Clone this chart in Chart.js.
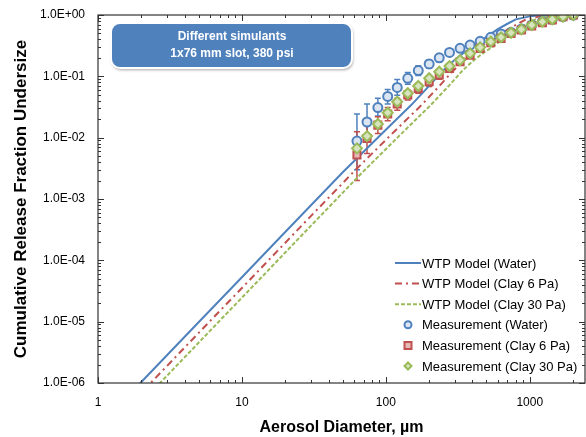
<!DOCTYPE html>
<html>
  <head>
    <meta charset="UTF-8" />
    <title>Cumulative Release Fraction Undersize</title>
    <script src="https://cdn.jsdelivr.net/npm/chart.js"></script>
    <style>
      body {
        margin: 0;
        background: #fff;
      }
      #wrap {
        width: 586px;
        height: 437px;
      }
    </style>
  </head>

  <body>
    <div id="wrap"><canvas id="releaseChart" width="586" height="437"></canvas></div>

    <script>
      // WTP model curves
      const waterModelX = [1, 2, 5, 10, 20, 50, 100, 150, 200, 250, 300, 350, 400, 500, 600, 700, 800, 1000, 1200, 1500, 2500];
      const waterModel = [1.9e-7, 1.04e-6, 9.8e-6, 5.3e-5, 2.9e-4, 2.7e-3, 0.0135, 0.034, 0.07, 0.125, 0.185, 0.244, 0.3, 0.44, 0.59, 0.72, 0.85, 0.95, 0.99, 1.0, 1.0];
      const clay6ModelX = [1.18, 2.36, 5.9, 11.8, 23.6, 59, 118, 177, 236, 295, 354, 413, 472, 590, 708, 826, 944, 1180, 1416, 1770, 2950];
      const clay6Model = [1.9e-7, 1.04e-6, 9.8e-6, 5.3e-5, 2.9e-4, 2.7e-3, 0.0135, 0.034, 0.07, 0.125, 0.185, 0.244, 0.3, 0.44, 0.59, 0.72, 0.85, 0.95, 0.99, 1.0, 1.0];
      const clay30ModelX = [1.37, 2.74, 6.85, 13.7, 27.4, 68.5, 137, 205, 274, 342, 411, 480, 548, 685, 822, 959, 1096, 1370, 1644, 2055, 3425];
      const clay30Model = [1.9e-7, 1.04e-6, 9.8e-6, 5.3e-5, 2.9e-4, 2.7e-3, 0.0135, 0.034, 0.07, 0.125, 0.185, 0.244, 0.3, 0.44, 0.59, 0.72, 0.85, 0.95, 0.99, 1.0, 1.0];

      // measurements
      const measX = [63, 74, 88, 103, 120, 142, 168, 200, 235, 277, 328, 385, 452, 536, 632, 741, 875, 1032, 1224, 1435, 1702, 2010];
      const waterMeas = [0.0088, 0.018, 0.031, 0.047, 0.066, 0.093, 0.124, 0.159, 0.2, 0.245, 0.286, 0.324, 0.372, 0.433, 0.49, 0.52, 0.59, 0.69, 0.78, 0.85, 0.94, 1.0];
      const clay6Meas = [0.0052, 0.0097, 0.016, 0.0243, 0.0353, 0.0495, 0.0637, 0.0817, 0.105, 0.135, 0.173, 0.222, 0.286, 0.353, 0.416, 0.5, 0.57, 0.66, 0.75, 0.83, 0.94, 1.0];
      const clay30Meas = [0.0067, 0.0106, 0.0167, 0.0255, 0.0386, 0.053, 0.0695, 0.093, 0.119, 0.147, 0.184, 0.237, 0.297, 0.367, 0.433, 0.514, 0.583, 0.687, 0.778, 0.85, 0.94, 1.0];

      // error bars (low / high), null = no bar
      const waterErrLo = [0.003, 0.0094, 0.0225, 0.0355, 0.049, 0.074, 0.103, 0.136, 0.172, 0.215, 0.256, 0.295, null, null, null, null, null, null, null, null, null, null];
      const waterErrHi = [0.0243, 0.0353, 0.044, 0.061, 0.089, 0.116, 0.149, 0.185, 0.232, 0.28, 0.32, 0.355, null, null, null, null, null, null, null, null, null, null];
      const clay6ErrLo = [0.002, 0.0055, 0.0117, 0.0188, 0.028, 0.041, 0.053, 0.068, 0.09, 0.118, 0.155, null, null, null, null, null, null, null, null, null, null, null];
      const clay6ErrHi = [0.0125, 0.017, 0.022, 0.031, 0.044, 0.059, 0.076, 0.098, 0.123, 0.155, 0.195, null, null, null, null, null, null, null, null, null, null, null];

      const xTicks = [1, 10, 100, 1000];
      const yTicks = [1e-6, 1e-5, 1e-4, 1e-3, 1e-2, 1e-1, 1];

      const BLUE = "#4F81BD";
      const RED = "#C0504D";
      const GREEN = "#9BBB59";
      const FONT = "'Liberation Sans', Arial, sans-serif";

      function toPoints(xs, ys) {
        return xs.map((x, i) => ({ x: x, y: ys[i] }));
      }

      function expLabel(v) {
        const e = Math.round(Math.log10(v));
        return "1.0E" + (e < 0 ? "-" : "+") + String(Math.abs(e)).padStart(2, "0");
      }

      // error bars under the markers
      const errorBars = {
        id: "errorBars",
        beforeDatasetsDraw(chart) {
          const { ctx, chartArea: a, scales } = chart;
          ctx.save();
          ctx.beginPath();
          ctx.rect(a.left, a.top, a.width, a.height);
          ctx.clip();
          [
            [waterErrLo, waterErrHi, BLUE],
            [clay6ErrLo, clay6ErrHi, RED],
          ].forEach(([lo, hi, color]) => {
            ctx.strokeStyle = color;
            ctx.lineWidth = 1.5;
            lo.forEach((l, i) => {
              if (l == null) return;
              const px = scales.x.getPixelForValue(measX[i]);
              const p1 = scales.y.getPixelForValue(l);
              const p2 = scales.y.getPixelForValue(hi[i]);
              ctx.beginPath();
              ctx.moveTo(px, p1);
              ctx.lineTo(px, p2);
              ctx.moveTo(px - 3, p1);
              ctx.lineTo(px + 3, p1);
              ctx.moveTo(px - 3, p2);
              ctx.lineTo(px + 3, p2);
              ctx.stroke();
            });
          });
          ctx.restore();
        },
      };

      // box frame with inside major/minor ticks on all four sides
      const frameTicks = {
        id: "frameTicks",
        afterDatasetsDraw(chart) {
          const { ctx, chartArea: a, scales } = chart;
          const x = scales.x;
          const y = scales.y;
          ctx.save();
          ctx.strokeStyle = "#333";
          ctx.lineWidth = 1.2;
          ctx.strokeRect(a.left, a.top, a.width, a.height);
          ctx.lineWidth = 1;
          ctx.beginPath();
          for (let d = 0; d <= 3; d++) {
            for (let k = 1; k <= 9; k++) {
              const v = k * Math.pow(10, d);
              if (v > x.max) break;
              const px = Math.round(x.getPixelForValue(v)) + 0.5;
              const len = k === 1 ? 6 : 3;
              ctx.moveTo(px, a.bottom);
              ctx.lineTo(px, a.bottom - len);
              ctx.moveTo(px, a.top);
              ctx.lineTo(px, a.top + len);
            }
          }
          for (let d = -6; d <= 0; d++) {
            for (let k = 1; k <= 9; k++) {
              const v = k * Math.pow(10, d);
              if (v > y.max * 1.0001) break;
              const py = Math.round(y.getPixelForValue(v)) + 0.5;
              const len = k === 1 ? 6 : 3;
              ctx.moveTo(a.left, py);
              ctx.lineTo(a.left + len, py);
              ctx.moveTo(a.right, py);
              ctx.lineTo(a.right - len, py);
            }
          }
          ctx.stroke();
          ctx.restore();
        },
      };

      function roundRect(ctx, x, y, w, h, r) {
        ctx.beginPath();
        ctx.moveTo(x + r, y);
        ctx.arcTo(x + w, y, x + w, y + h, r);
        ctx.arcTo(x + w, y + h, x, y + h, r);
        ctx.arcTo(x, y + h, x, y, r);
        ctx.arcTo(x, y, x + w, y, r);
        ctx.closePath();
      }

      function drawMarker(ctx, style, cx, cy, r, fill, stroke) {
        ctx.fillStyle = fill;
        ctx.strokeStyle = stroke;
        ctx.lineWidth = 2;
        ctx.setLineDash([]);
        ctx.beginPath();
        if (style === "circle") {
          ctx.arc(cx, cy, r, 0, Math.PI * 2);
        } else if (style === "rect") {
          ctx.rect(cx - r, cy - r, 2 * r, 2 * r);
        } else {
          ctx.moveTo(cx, cy - r);
          ctx.lineTo(cx + r, cy);
          ctx.lineTo(cx, cy + r);
          ctx.lineTo(cx - r, cy);
          ctx.closePath();
        }
        ctx.fill();
        ctx.stroke();
      }

      // text box, legend and y-axis title
      const annotations = {
        id: "annotations",
        afterDraw(chart) {
          const { ctx, chartArea: a } = chart;
          ctx.save();

          // "Different simulants" box
          ctx.shadowColor = "rgba(0,0,0,0.35)";
          ctx.shadowBlur = 3;
          ctx.shadowOffsetX = 1;
          ctx.shadowOffsetY = 2;
          roundRect(ctx, 111, 23, 241, 45, 9);
          ctx.fillStyle = BLUE;
          ctx.fill();
          ctx.shadowColor = "transparent";
          ctx.strokeStyle = "#fff";
          ctx.lineWidth = 2;
          ctx.stroke();
          ctx.fillStyle = "#fff";
          ctx.font = "bold 12px " + FONT;
          ctx.textAlign = "center";
          ctx.textBaseline = "middle";
          ctx.fillText("Different simulants", 232, 37);
          ctx.fillText("1x76 mm slot, 380 psi", 232, 54);

          // y-axis title, centred on the plot area
          ctx.save();
          ctx.translate(21, (a.top + a.bottom) / 2);
          ctx.rotate(-Math.PI / 2);
          ctx.fillStyle = "#000";
          ctx.font = "bold 17px " + FONT;
          ctx.fillText("Cumulative Release Fraction Undersize", 0, 0);
          ctx.restore();

          // legend
          const tx = a.left + 324;
          const y0 = a.bottom - 120;
          ctx.textAlign = "left";
          ctx.font = "13px " + FONT;
          chart.data.datasets.forEach((ds, i) => {
            const yy = y0 + i * 20.6;
            if (ds.showLine) {
              ctx.strokeStyle = ds.borderColor;
              ctx.lineWidth = 2;
              ctx.setLineDash(ds.borderDash || []);
              ctx.beginPath();
              ctx.moveTo(tx - 27, yy);
              ctx.lineTo(tx - 1, yy);
              ctx.stroke();
              ctx.setLineDash([]);
            } else {
              drawMarker(ctx, ds.pointStyle, tx - 14, yy, 3.5, ds.backgroundColor, ds.borderColor);
            }
            ctx.fillStyle = "#000";
            ctx.fillText(ds.label, tx, yy + 1);
          });
          ctx.restore();
        },
      };

      const ctx = document.getElementById("releaseChart").getContext("2d");
      const chart = new Chart(ctx, {
        type: "scatter",
        data: {
          datasets: [
            {
              label: "WTP Model (Water)",
              data: toPoints(waterModelX, waterModel),
              showLine: true,
              borderColor: BLUE,
              borderWidth: 2,
              pointRadius: 0,
              order: 6,
            },
            {
              label: "WTP Model (Clay 6 Pa)",
              data: toPoints(clay6ModelX, clay6Model),
              showLine: true,
              borderColor: RED,
              borderWidth: 2,
              borderDash: [7, 4, 2, 4],
              pointRadius: 0,
              order: 5,
            },
            {
              label: "WTP Model (Clay 30 Pa)",
              data: toPoints(clay30ModelX, clay30Model),
              showLine: true,
              borderColor: GREEN,
              borderWidth: 2,
              borderDash: [4, 2],
              pointRadius: 0,
              order: 4,
            },
            {
              label: "Measurement (Water)",
              data: toPoints(measX, waterMeas),
              pointStyle: "circle",
              pointRadius: 4.5,
              borderWidth: 2,
              borderColor: BLUE,
              backgroundColor: "#DCE6F2",
              order: 3,
            },
            {
              label: "Measurement (Clay 6 Pa)",
              data: toPoints(measX, clay6Meas),
              pointStyle: "rect",
              pointRadius: 5,
              borderWidth: 2,
              borderColor: RED,
              backgroundColor: "#E6B9B8",
              order: 2,
            },
            {
              label: "Measurement (Clay 30 Pa)",
              data: toPoints(measX, clay30Meas),
              pointStyle: "rectRot",
              pointRadius: 5,
              borderWidth: 2,
              borderColor: GREEN,
              backgroundColor: "#D7E4BD",
              order: 1,
            },
          ],
        },
        options: {
          responsive: false,
          animation: false,
          devicePixelRatio: 1,
          layout: { autoPadding: false, padding: { top: 15, right: 1, left: 0, bottom: 0 } },
          plugins: {
            legend: { display: false },
            tooltip: { enabled: false },
          },
          scales: {
            x: {
              type: "logarithmic",
              min: 1,
              max: 2420,
              afterBuildTicks: (s) => {
                s.ticks = xTicks.map((v) => ({ value: v }));
              },
              afterFit: (s) => {
                s.height = 54;
                s.paddingLeft = 0;
                s.paddingRight = 0;
              },
              grid: { display: false, drawTicks: false },
              border: { display: false },
              ticks: {
                callback: (v) => String(v),
                font: { family: FONT, size: 12 },
                color: "#000",
                padding: 12,
                maxRotation: 0,
                autoSkip: false,
              },
              title: {
                display: true,
                text: "Aerosol Diameter, \u00b5m",
                font: { family: FONT, size: 16, weight: "bold" },
                color: "#000",
                padding: 0,
              },
            },
            y: {
              type: "logarithmic",
              min: 1e-6,
              max: 1,
              afterBuildTicks: (s) => {
                s.ticks = yTicks.map((v) => ({ value: v }));
              },
              afterFit: (s) => {
                s.width = 98;
                s.paddingTop = 0;
                s.paddingBottom = 0;
              },
              grid: { display: false, drawTicks: false },
              border: { display: false },
              ticks: {
                callback: (v) => expLabel(v),
                font: { family: FONT, size: 12 },
                color: "#000",
                padding: 13,
                autoSkip: false,
              },
              title: { display: false },
            },
          },
        },
        plugins: [errorBars, frameTicks, annotations],
      });
    </script>
  </body>
</html>
